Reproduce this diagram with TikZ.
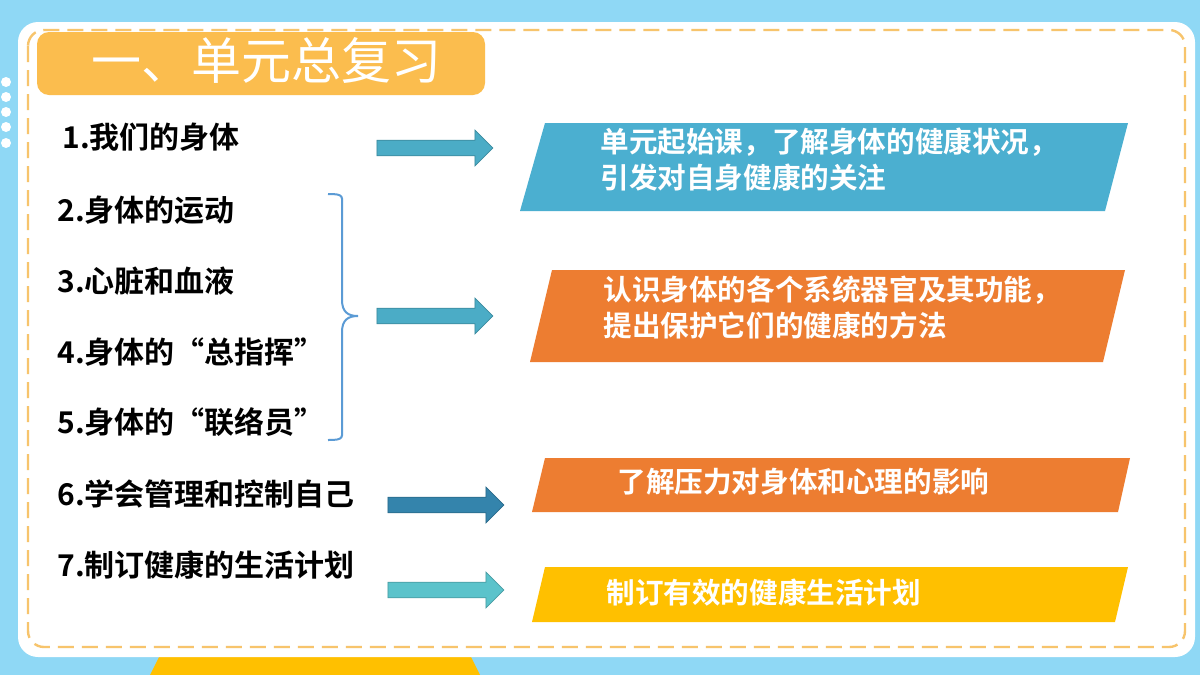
\documentclass[tikz,border=0pt]{standalone}
\usepackage{fontspec}
\setmainfont{Noto Sans CJK SC}[BoldFont={* Bold}]
\usetikzlibrary{shapes.arrows}
\definecolor{sky}{HTML}{8FD8F5}
\definecolor{titleor}{HTML}{FBBD4E}
\definecolor{dashor}{HTML}{F7C46C}
\definecolor{pblue}{HTML}{4BAFD0}
\definecolor{porange}{HTML}{ED7D31}
\definecolor{pyellow}{HTML}{FFC000}
\definecolor{arblue}{HTML}{4BACC6}
\definecolor{ardark}{HTML}{3484AC}
\definecolor{arteal}{HTML}{5BC3CB}
\definecolor{brace}{HTML}{5B9BD5}
\tikzset{
  item/.style={anchor=west,font=\bfseries\fontsize{15}{17}\selectfont,inner sep=0pt},
  boxtext/.style={anchor=west,align=left,text=white,font=\bfseries\fontsize{14.3}{18}\selectfont,inner sep=0pt},
  blockarrow/.style={single arrow,draw=#1!80!black,fill=#1,minimum height=58pt,minimum width=18pt,single arrow head extend=3.5pt,inner sep=2.5pt,line width=0.4pt},
}
\begin{document}
\begin{tikzpicture}[x=0.5pt,y=-0.5pt]
\useasboundingbox (0,0) rectangle (1200,675);
%% background
\fill[sky] (0,0) rectangle (1200,675);
\fill[pyellow] (150,675) -- (160,655) -- (470,655) -- (480,675) -- cycle;
\fill[white,rounded corners=10pt] (18,22) rectangle (1195,657);
\draw[dashor,line width=1.2pt,dash pattern=on 8pt off 4pt,rounded corners=8pt] (28,30) rectangle (1185,647);
\foreach \y in {82,97,112,127,143} \fill[white] (6,\y) circle (2.5pt);
%% title
\fill[titleor,rounded corners=6pt] (37,32) rectangle (485,95);
\node (title) at (266,60) [text=white,font=\fontsize{25}{27}\selectfont] {一、单元总复习};
%% left column
\node (item_1) at (62,137) [item] {1.我们的身体};
\node (item_2) at (57,210) [item] {2.身体的运动};
\node (item_3) at (57,281) [item] {3.心脏和血液};
\node (item_4) at (57,352) [item] {4.身体的“总指挥”};
\node (item_5) at (57,422) [item] {5.身体的“联络员”};
\node (item_6) at (57,494) [item] {6.学会管理和控制自己};
\node (item_7) at (57,565) [item] {7.制订健康的生活计划};
%% brace
\draw[brace,line width=1pt] (328,194) .. controls (345,194) and (342,196) .. (342,210) -- (342,300) .. controls (342,312) and (348,316) .. (358,316) .. controls (348,316) and (342,320) .. (342,332) -- (342,424) .. controls (342,438) and (345,440) .. (328,440);
%% block arrows
\node (arrow_1) at (431,148) [blockarrow=arblue] {};
\node (arrow_2) at (431,316) [blockarrow=arblue] {};
\node (arrow_3) at (442,505) [blockarrow=ardark] {};
\node (arrow_4) at (442,590) [blockarrow=arteal] {};
%% boxes
\fill[pblue] (545,123) -- (1128,123) -- (1105,211) -- (520,211) -- cycle;
\fill[porange] (552,270) -- (1125,270) -- (1103,362) -- (530,362) -- cycle;
\fill[porange] (545,458) -- (1130,458) -- (1118,512) -- (532,512) -- cycle;
\fill[pyellow] (545,567) -- (1128,567) -- (1115,622) -- (532,622) -- cycle;
\node (box_1) at (600,160) [boxtext] {单元起始课，了解身体的健康状况，\\引发对自身健康的关注};
\node (box_2) at (603,308) [boxtext] {认识身体的各个系统器官及其功能，\\提出保护它们的健康的方法};
\node (box_3) at (617,482) [boxtext] {了解压力对身体和心理的影响};
\node (box_4) at (606,593) [boxtext] {制订有效的健康生活计划};
%
\end{tikzpicture}
\end{document}
